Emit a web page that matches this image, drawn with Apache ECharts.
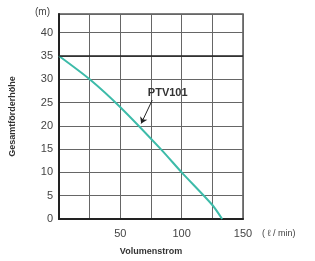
<!DOCTYPE html>
<html><head><meta charset="utf-8">
<script src="https://cdn.jsdelivr.net/npm/echarts@6/dist/echarts.min.js"></script>
<style>html,body{margin:0;padding:0;background:#fff}#c{width:315px;height:261px}</style>
</head><body><div id="c"></div>
<script>
const flow = [0, 25, 50, 83, 100, 125, 133];
const head = [35, 30, 24, 15, 10, 3, 0];
const seriesName = 'PTV101';
const xTicks = [50, 100, 150];
const yTicks = [0, 5, 10, 15, 20, 25, 30, 35, 40];

const chart = echarts.init(document.getElementById('c'));
const font = 'Liberation Sans, Arial, sans-serif';
chart.setOption({
  animation: false,
  grid: {left: 57, top: 14, right: 72, bottom: 42, show: true, borderColor: '#555', borderWidth: 1.5},
  xAxis: {
    type: 'value', min: 0, max: 150, interval: 25,
    name: 'Volumenstrom', nameLocation: 'middle', nameGap: 28,
    nameTextStyle: {fontFamily: font, fontSize: 9, fontWeight: 'bold', color: '#333'},
    axisLine: {lineStyle: {color: '#222', width: 2}},
    axisTick: {show: false},
    splitLine: {lineStyle: {color: '#666', width: 1}},
    axisLabel: {fontFamily: font, fontSize: 11, color: '#444', margin: 9,
      formatter: v => xTicks.includes(v) ? String(v) : ''}
  },
  yAxis: {
    type: 'value', min: 0, max: 44, interval: 5,
    name: 'Gesamtförderhöhe', nameLocation: 'middle', nameGap: 42, nameRotate: 90,
    nameTextStyle: {fontFamily: font, fontSize: 9, fontWeight: 'bold', color: '#333'},
    axisLine: {lineStyle: {color: '#222', width: 2}},
    axisTick: {show: false},
    splitLine: {lineStyle: {color: '#666', width: 1}},
    axisLabel: {fontFamily: font, fontSize: 11, color: '#444', margin: 6, showMaxLabel: false,
      formatter: v => yTicks.includes(v) ? String(v) : ''}
  },
  series: [{
    name: seriesName, type: 'line', symbol: 'none', smooth: 0.25,
    data: flow.map((x, i) => [x, head[i]]),
    lineStyle: {color: '#3dbba9', width: 2},
    markLine: {
      silent: true, symbol: ['none', 'none'],
      lineStyle: {color: '#222', width: 1.5, type: 'solid'},
      label: {show: false},
      data: [{yAxis: 35}]
    }
  }, {
    type: 'line', symbol: 'none', data: [],
    markLine: {
      silent: true, symbol: ['none', 'arrow'], symbolSize: 6,
      lineStyle: {color: '#222', width: 1, type: 'solid'},
      label: {show: false},
      data: [[{coord: [76, 25.5]}, {coord: [67, 20.5]}]]
    },
    markPoint: {
      symbol: 'rect', symbolSize: 1, itemStyle: {color: 'rgba(0,0,0,0)'},
      label: {show: true, formatter: seriesName, position: 'right', distance: 0,
        fontFamily: font, fontSize: 11, fontWeight: 'bold', color: '#333'},
      data: [{coord: [72, 27]}]
    }
  }],
  graphic: [
    {type: 'text', left: 35, top: 7, style: {text: '(m)', fontFamily: font, fontSize: 10, fill: '#444'}},
    {type: 'text', left: 262, top: 229, style: {text: '( ℓ / min)', fontFamily: font, fontSize: 9, fill: '#444'}}
  ]
});
</script></body></html>
